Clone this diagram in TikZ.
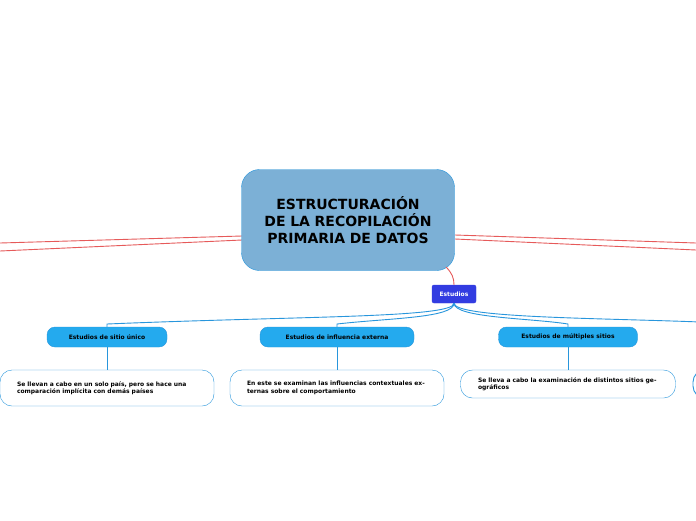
\documentclass[tikz,border=0pt]{standalone}
\usepackage{fontspec}
\setmainfont{DejaVu Sans}
\usetikzlibrary{positioning}
\definecolor{mainblue}{RGB}{124,176,214}
\definecolor{edgeblue}{RGB}{40,150,220}
\definecolor{childblue}{RGB}{36,170,238}
\definecolor{hubblue}{RGB}{50,60,225}
\definecolor{redline}{RGB}{230,90,90}
\tikzset{
  topic/.style={draw=edgeblue, fill=mainblue, rounded corners=18pt, minimum width=213pt, minimum height=101pt, align=center, font=\bfseries\fontsize{14}{17}\selectfont, text width=180pt},
  hub/.style={draw=hubblue, fill=hubblue, rounded corners=2pt, minimum width=44pt, minimum height=18pt, text=white, font=\bfseries\fontsize{6}{7}\selectfont},
  child/.style={draw=edgeblue, fill=childblue, rounded corners=8pt, minimum height=20pt, font=\bfseries\fontsize{6}{7}\selectfont},
  leaf/.style={draw=edgeblue, fill=white, rounded corners=12pt, minimum width=214pt, align=left, text width=180pt, font=\bfseries\fontsize{6}{7.5}\selectfont},
  blueedge/.style={draw=edgeblue, line width=0.9pt},
  rededge/.style={draw=redline, line width=0.9pt}
}
\begin{document}
\begin{tikzpicture}[x=1pt,y=-1pt]
\useasboundingbox (0,0) rectangle (696,520);
\clip (0,0) rectangle (696,520);
\fill[white] (0,0) rectangle (696,520);

% red side lines
\draw[rededge] (242,236) -- (0,243);
\draw[rededge] (242,240) -- (0,251);
\draw[rededge] (455,235) -- (696,243);
\draw[rededge] (455,239) -- (696,250);

\node[topic] (main) at (348,220) {ESTRUCTURACIÓN DE LA RECOPILACIÓN PRIMARIA DE DATOS};
\node[hub] (hub) at (454,294) {Estudios};
\draw[rededge] (446,267) .. controls (452,273) and (454,278) .. (hub.north);

\node[child, minimum width=120pt] (sitio) at (107,337) {Estudios de sitio único};
\node[child, minimum width=154pt] (externa) at (337,337) {Estudios de influencia externa};
\node[child, minimum width=139pt] (multiples) at (568,337) {Estudios de múltiples sitios};
\coordinate (otro) at (700,322);

% connectors from hub
\draw[blueedge] (hub.south) .. controls (454,318) and (300,316) .. (107,324) -- (sitio.north);
\draw[blueedge] (hub.south) .. controls (454,318) and (390,318) .. (337,324) -- (externa.north);
\draw[blueedge] (hub.south) .. controls (454,318) and (530,318) .. (568,324) -- (multiples.north);
\draw[blueedge] (hub.south) .. controls (454,318) and (600,318) .. (otro);

\node[leaf, minimum height=36pt] (leaf1) at (107,388) {Se llevan a cabo en un solo país, pero se hace una comparación implícita con demás países};
\node[leaf, minimum height=36pt] (leaf2) at (337,388) {En este se examinan las influencias contextuales externas sobre el comportamiento};
\node[leaf, minimum height=28pt, minimum width=215pt] (leaf3) at (568,384) {Se lleva a cabo la examinación de distintos sitios geográficos};
\draw[draw=edgeblue, line width=0.9pt, rounded corners=12pt] (720,370) -- (693,370) -- (693,398) -- (720,398);

\draw[blueedge] (sitio.south) -- (leaf1.north);
\draw[blueedge] (externa.south) -- (leaf2.north);
\draw[blueedge] (multiples.south) -- (leaf3.north);
\end{tikzpicture}
\end{document}
